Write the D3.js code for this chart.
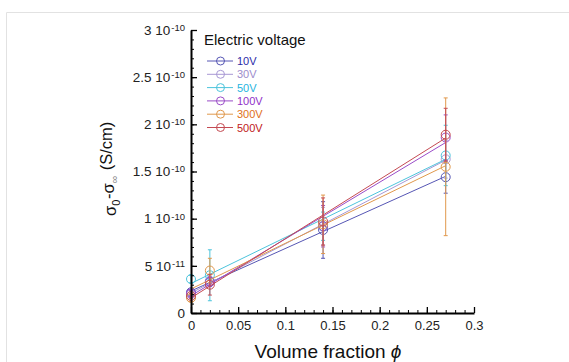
<!DOCTYPE html>
<html>
<head>
<meta charset="utf-8">
<script src="https://cdn.jsdelivr.net/npm/d3@7"></script>
<style>
  body { margin: 0; background: #fff; }
  svg { display: block; font-family: "Liberation Sans", Arial, sans-serif; }
</style>
</head>
<body>
<div id="chart"></div>
<script>
// volume fraction of each measurement
const fractions = [0, 0.02, 0.14, 0.27];

// series names (electric voltage)
const voltages = ["10V", "30V", "50V", "100V", "300V", "500V"];

// sigma_0 - sigma_inf, in units of 1e-10 S/cm
const v10 = [0.22, 0.33, 0.88, 1.44];
const v30 = [0.20, 0.34, 0.92, 1.63];
const v50 = [0.36, 0.40, 0.92, 1.67];
const v100 = [0.21, 0.33, 0.92, 1.86];
const v300 = [0.16, 0.45, 0.94, 1.55];
const v500 = [0.18, 0.30, 0.97, 1.89];

// error bars (same units)
const e10 = [0.03, 0.04, 0.30, 0.17];
const e30 = [0.03, 0.05, 0.20, 0.20];
const e50 = [0.04, 0.27, 0.15, 0.32];
const e100 = [0.03, 0.05, 0.22, 0.24];
const e300 = [0.04, 0.13, 0.31, 0.73];
const e500 = [0.03, 0.11, 0.25, 0.28];

const yTicks = [0, 0.5, 1, 1.5, 2, 2.5, 3];
const yTickLabels = [["0", ""], ["5 10", "-11"], ["1 10", "-10"], ["1.5 10", "-10"], ["2 10", "-10"], ["2.5 10", "-10"], ["3 10", "-10"]];
const xTicks = [0, 0.05, 0.1, 0.15, 0.2, 0.25, 0.3];
const xTickLabels = ["0", "0.05", "0.1", "0.15", "0.2", "0.25", "0.3"];

const lineColors = ["#5656b4", "#a898d4", "#4cc4dc", "#9a4cc8", "#e0984c", "#c44a52"];
const textColors = ["#2a2aa8", "#9c8ccc", "#1eb4e0", "#9030c8", "#e07020", "#c02020"];

const values = [v10, v30, v50, v100, v300, v500];
const errors = [e10, e30, e50, e100, e300, e500];

const series = voltages.map((name, i) => ({
    name,
    line: lineColors[i],
    text: textColors[i],
    points: fractions.map((f, j) => ({ x: f, y: values[i][j], e: errors[i][j] }))
}));

const width = 569, height = 362;

const svg = d3.select("#chart")
    .append("svg")
    .attr("width", width)
    .attr("height", height);

// light frame of the figure
svg.append("path")
    .attr("d", `M6.5,${height} V12.5 H${width}`)
    .attr("fill", "none")
    .attr("stroke", "#e2e2e2")
    .attr("stroke-width", 1);

const x = d3.scaleLinear().domain([0, 0.3]).range([191, 474]);
const y = d3.scaleLinear().domain([0, 3]).range([313, 30]);

// least squares line for each series
const fit = pts => {
    const mx = d3.mean(pts, d => d.x), my = d3.mean(pts, d => d.y);
    const sxy = d3.sum(pts, d => (d.x - mx) * (d.y - my));
    const sxx = d3.sum(pts, d => (d.x - mx) * (d.x - mx));
    const b = sxy / sxx;
    return { a: my - b * mx, b };
};

const plot = svg.append("g");

series.forEach(s => {
    const g = plot.append("g").attr("stroke", s.line).attr("fill", "none").attr("stroke-width", 1);
    const f = fit(s.points);
    const x0 = d3.min(fractions), x1 = d3.max(fractions);
    g.append("line")
        .attr("x1", x(x0)).attr("y1", y(f.a + f.b * x0))
        .attr("x2", x(x1)).attr("y2", y(f.a + f.b * x1));

    // error bars
    const eb = g.selectAll(".err").data(s.points).enter().append("g");
    eb.append("line")
        .attr("x1", d => x(d.x)).attr("x2", d => x(d.x))
        .attr("y1", d => y(d.y - d.e)).attr("y2", d => y(d.y + d.e));
    eb.append("line")
        .attr("x1", d => x(d.x) - 2).attr("x2", d => x(d.x) + 2)
        .attr("y1", d => y(d.y + d.e)).attr("y2", d => y(d.y + d.e));
    eb.append("line")
        .attr("x1", d => x(d.x) - 2).attr("x2", d => x(d.x) + 2)
        .attr("y1", d => y(d.y - d.e)).attr("y2", d => y(d.y - d.e));

    g.selectAll("circle").data(s.points).enter().append("circle")
        .attr("cx", d => x(d.x))
        .attr("cy", d => y(d.y))
        .attr("r", 4.5);
});

// y axis
const yMinor = d3.range(0, 3.001, 0.1);
svg.append("g")
    .attr("transform", `translate(${x(0)},0)`)
    .call(d3.axisLeft(y).tickValues(yMinor).tickSizeInner(-3).tickSizeOuter(0).tickFormat(""))
    .call(g => g.select(".domain").remove());

const yAxis = svg.append("g")
    .attr("transform", `translate(${x(0)},0)`)
    .call(d3.axisLeft(y).tickValues(yTicks).tickSizeInner(-6).tickSizeOuter(0).tickPadding(6).tickFormat(""));
yAxis.select(".domain").attr("stroke-width", 2);
yAxis.selectAll(".tick line").attr("stroke-width", 1.3);
yAxis.selectAll(".tick text")
    .attr("font-size", 13.5)
    .attr("fill", "#222")
    .attr("font-family", "Liberation Sans, Arial, sans-serif")
    .each(function (d, i) {
        const t = d3.select(this);
        const lab = yTickLabels[i];
        t.append("tspan").text(lab[0]);
        if (lab[1]) {
            t.append("tspan").attr("font-size", 9.5).attr("dx", 1).attr("dy", "-0.42em").text(lab[1]);
        }
    });

// x axis
const xMinor = d3.range(0, 0.3001, 0.01);
svg.append("g")
    .attr("transform", `translate(0,${y(0)})`)
    .call(d3.axisBottom(x).tickValues(xMinor).tickSizeInner(-3).tickSizeOuter(0).tickFormat(""))
    .call(g => g.select(".domain").remove());

const xAxis = svg.append("g")
    .attr("transform", `translate(0,${y(0)})`)
    .call(d3.axisBottom(x).tickValues(xTicks).tickSizeInner(-6).tickSizeOuter(0).tickPadding(8)
        .tickFormat((d, i) => xTickLabels[i]));
xAxis.select(".domain").attr("stroke-width", 2);
xAxis.selectAll(".tick line").attr("stroke-width", 1.3);
xAxis.selectAll(".tick text")
    .attr("font-size", 13)
    .attr("fill", "#222")
    .attr("font-family", "Liberation Sans, Arial, sans-serif");

// axis titles
const xt = svg.append("text")
    .attr("x", 328)
    .attr("y", 358)
    .attr("text-anchor", "middle")
    .attr("font-size", 19)
    .attr("fill", "#111");
xt.append("tspan").text("Volume fraction ");
xt.append("tspan").attr("font-style", "italic").text("ϕ");

const yt = svg.append("text")
    .attr("transform", "translate(116,216) rotate(-90)")
    .attr("text-anchor", "start")
    .attr("font-size", 16.5)
    .attr("fill", "#111");
yt.append("tspan").text("σ");
yt.append("tspan").attr("font-size", 11).attr("dy", "0.35em").text("0");
yt.append("tspan").attr("dy", "-0.35em").attr("dx", "0.05em").text("-σ");
yt.append("tspan").attr("font-size", 11).attr("dy", "0.35em").attr("fill", "#888").text("∞");
yt.append("tspan").attr("dy", "-0.35em").attr("dx", 5).text("(S/cm)");

// legend
const legend = svg.append("g").attr("transform", "translate(204,0)");
legend.append("text")
    .attr("x", 0)
    .attr("y", 45)
    .attr("font-size", 15)
    .attr("fill", "#111")
    .text("Electric voltage");

const ly = d3.scalePoint().domain(voltages).range([61, 127.5]);
const items = legend.selectAll(".item").data(series).enter().append("g")
    .attr("transform", d => `translate(0,${ly(d.name)})`);
items.append("line")
    .attr("x1", 3).attr("x2", 29)
    .attr("stroke", d => d.line).attr("stroke-width", 1);
items.append("circle")
    .attr("cx", 16.5).attr("r", 4)
    .attr("fill", "none").attr("stroke", d => d.line);
items.append("text")
    .attr("x", 33)
    .attr("y", 4)
    .attr("font-size", 11)
    .attr("fill", d => d.text)
    .text(d => d.name);
</script>
</body>
</html>
